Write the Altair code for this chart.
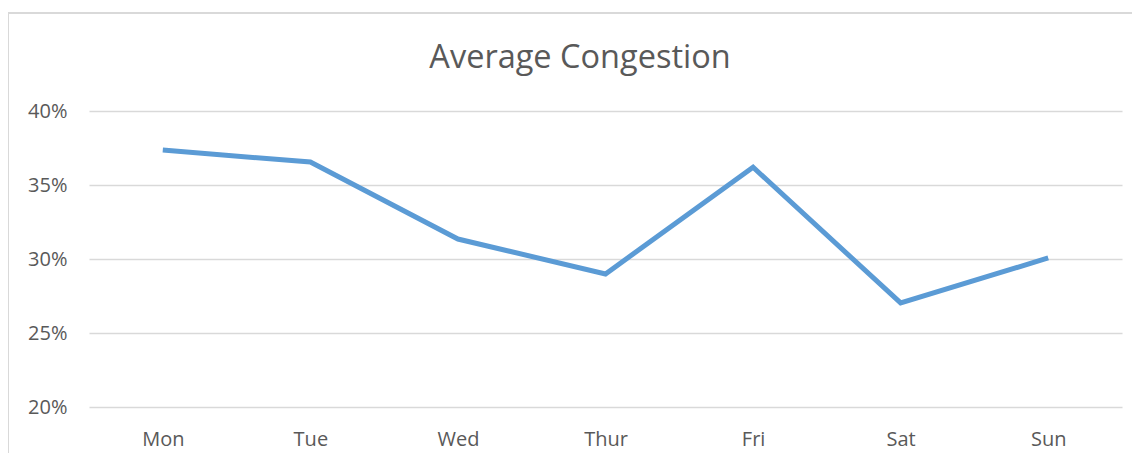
import altair as alt
import pandas as pd

days = ["Mon", "Tue", "Wed", "Thur", "Fri", "Sat", "Sun"]
congestion = [0.3736, 0.3655, 0.3135, 0.2899, 0.3620, 0.2703, 0.3007]
y_ticks = [0.20, 0.25, 0.30, 0.35, 0.40]
title_text = ["Average Congestion"]

df = pd.DataFrame({"day": days, "value": congestion})

FONT = "Open Sans"
GRAY = "#595959"
BORDER = "#d9d9d9"

line = alt.Chart(df).mark_line(color="#5b9bd5", strokeWidth=5, strokeCap="butt", strokeJoin="miter").encode(
    x=alt.X("day:N", sort=days,
            scale=alt.Scale(type="point", padding=0.5),
            axis=alt.Axis(title=None, labelAngle=0, ticks=False, domain=False, grid=False,
                          labelPadding=22, labelFontSize=20, labelColor=GRAY, labelFont=FONT)),
    y=alt.Y("value:Q",
            scale=alt.Scale(domain=[0.2, 0.4], nice=False, zero=False),
            axis=alt.Axis(title=None, values=y_ticks, format=".0%", ticks=False, domain=False,
                          grid=True, gridColor="#d9d9d9", gridWidth=1.5,
                          labelPadding=22, labelFontSize=20, labelColor=GRAY, labelFont=FONT)),
)

one = pd.DataFrame({"t": title_text})

border_left = alt.Chart(one).mark_rule(color=BORDER, strokeWidth=2, clip=False).encode(
    x=alt.value(-81), y=alt.value(-99), y2=alt.value(360)
)
border_top = alt.Chart(one).mark_rule(color=BORDER, strokeWidth=2, clip=False).encode(
    x=alt.value(-82), x2=alt.value(1070), y=alt.value(-98)
)

title = alt.Chart(one).mark_text(
    font=FONT, fontSize=32.5, color=GRAY, align="center", baseline="middle"
).encode(
    text="t:N", x=alt.value(491), y=alt.value(-53)
)

chart = alt.layer(border_left, border_top, line, title).properties(
    width=1033,
    height=296,
    background="white",
    autosize=alt.AutoSizeParams(type="none"),
    padding={"left": 81, "top": 103, "right": 10, "bottom": 46},
).configure_view(strokeWidth=0, stroke=None)

chart.save("out.html", embed_options={"renderer": "svg", "actions": False})
